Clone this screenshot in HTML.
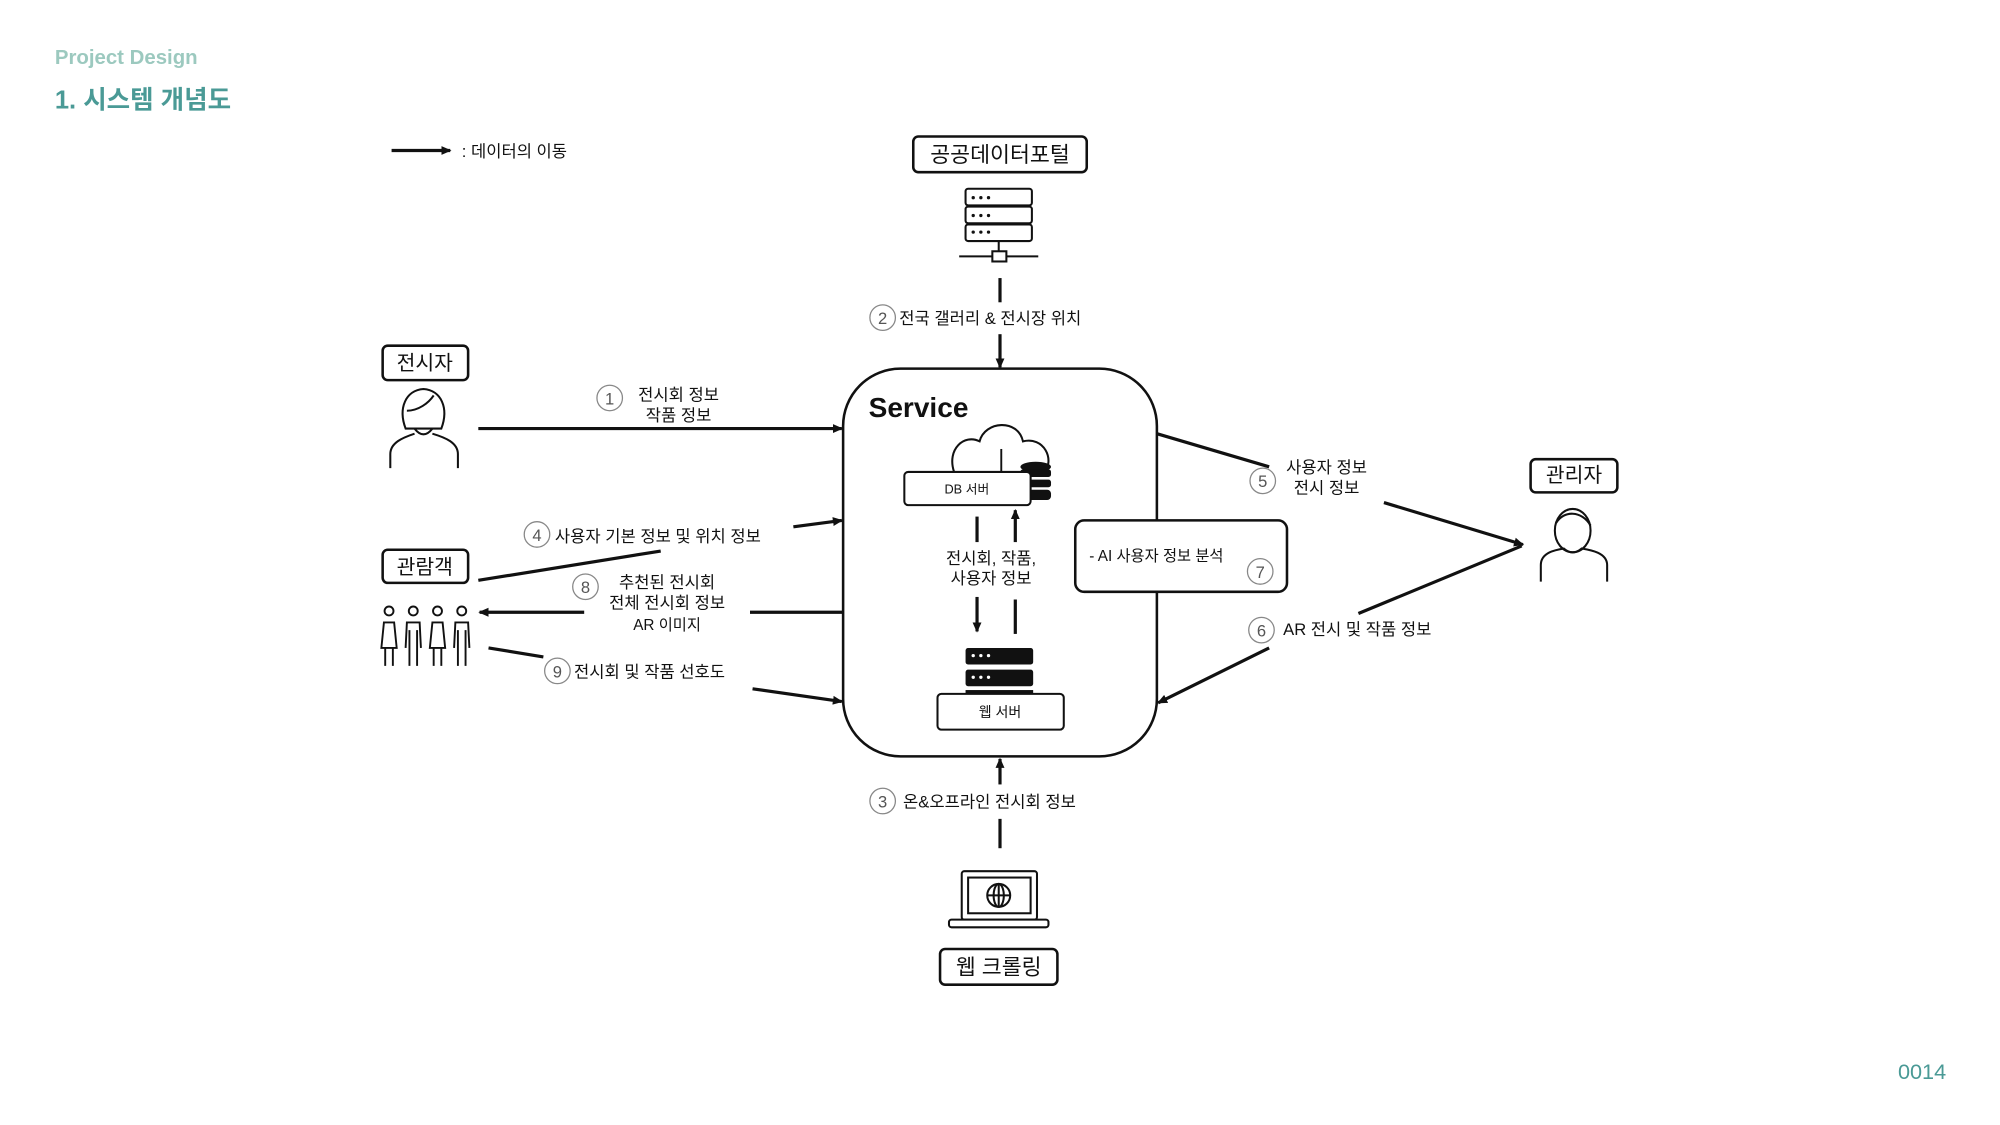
<!DOCTYPE html>
<html><head><meta charset="utf-8"><style>
html,body{margin:0;padding:0;background:#fff;}
svg{display:block;}
text{font-family:"Liberation Sans","Noto Sans CJK KR",sans-serif;fill:#111;}
</style></head><body>
<svg width="2000" height="1125" viewBox="0 0 1568 882" xmlns="http://www.w3.org/2000/svg">
<defs>
<marker id="ah" markerWidth="8" markerHeight="8" refX="7" refY="4" orient="auto" markerUnits="userSpaceOnUse">
<path d="M0,0.5 L8,4 L0,7.5 Z" fill="#111"/></marker>
</defs>
<text x="43" y="50" font-size="16" font-weight="bold" style="fill:#9cc9bf">Project Design</text>
<text x="43" y="85" font-size="20" font-weight="bold" style="fill:#4a9a96">1. 시스템 개념도</text>
<text x="1488" y="846" font-size="17" style="fill:#4a9a96">0014</text>

<g stroke="#111" stroke-width="2.5" fill="none">
<line x1="307" y1="118" x2="353" y2="118" marker-end="url(#ah)"/>
</g>
<text x="362" y="123" font-size="13">: 데이터의 이동</text>

<!-- 공공데이터포털 -->
<rect x="716" y="107" width="136" height="28" rx="4" fill="#fff" stroke="#111" stroke-width="2"/>
<text x="784" y="127" font-size="17" text-anchor="middle">공공데이터포털</text>
<g stroke="#111" stroke-width="1.6" fill="#fff">
<rect x="757" y="148" width="52" height="13" rx="2"/>
<rect x="757" y="162" width="52" height="13" rx="2"/>
<rect x="757" y="176" width="52" height="13" rx="2"/>
<line x1="783" y1="189" x2="783" y2="197"/>
<line x1="752" y1="201" x2="814" y2="201"/>
<rect x="778" y="197" width="11" height="8"/>
</g>
<g fill="#111"><circle cx="763" cy="155" r="1.3"/><circle cx="769" cy="155" r="1.3"/><circle cx="775" cy="155" r="1.3"/>
<circle cx="763" cy="169" r="1.3"/><circle cx="769" cy="169" r="1.3"/><circle cx="775" cy="169" r="1.3"/>
<circle cx="763" cy="182" r="1.3"/><circle cx="769" cy="182" r="1.3"/><circle cx="775" cy="182" r="1.3"/></g>

<g stroke="#111" stroke-width="2.5" fill="none">
<line x1="784" y1="218" x2="784" y2="237"/>
<line x1="784" y1="262" x2="784" y2="288" marker-end="url(#ah)"/>
</g>
<circle cx="692" cy="249" r="10" fill="#fff" stroke="#888" stroke-width="1"/>
<text x="692" y="254" font-size="13" text-anchor="middle" style="fill:#555">2</text>
<text x="705" y="254" font-size="13">전국 갤러리 &amp; 전시장 위치</text>

<!-- Service -->
<rect x="661" y="289" width="246" height="304" rx="45" fill="#fff" stroke="#111" stroke-width="2"/>
<text x="681" y="327" font-size="22" font-weight="bold">Service</text>
<path d="M748,370 C742,352 756,340 768,346 C772,330 798,328 802,346 C818,342 828,360 818,372 Z" fill="#fff" stroke="#111" stroke-width="1.6"/>
<line x1="785" y1="352" x2="785" y2="372" stroke="#111" stroke-width="1.5"/>
<g fill="#111"><ellipse cx="812" cy="366" rx="12" ry="4"/><rect x="800" y="368" width="24" height="6" rx="2"/><rect x="800" y="376" width="24" height="6" rx="2"/><rect x="800" y="384" width="24" height="8" rx="3"/></g>
<rect x="709" y="370" width="99" height="26" rx="3" fill="#fff" stroke="#111" stroke-width="1.6"/>
<text x="758" y="387" font-size="10" text-anchor="middle">DB 서버</text>
<g stroke="#111" stroke-width="2.5" fill="none">
<line x1="766" y1="405" x2="766" y2="425"/>
<line x1="766" y1="468" x2="766" y2="495" marker-end="url(#ah)"/>
<line x1="796" y1="497" x2="796" y2="470"/>
<line x1="796" y1="425" x2="796" y2="400" marker-end="url(#ah)"/>
</g>
<text x="777" y="442" font-size="13" text-anchor="middle">전시회, 작품,</text>
<text x="777" y="458" font-size="13" text-anchor="middle">사용자 정보</text>
<g fill="#111"><rect x="757" y="508" width="53" height="13" rx="2"/><rect x="757" y="525" width="53" height="13" rx="2"/><rect x="757" y="541" width="53" height="5"/></g>
<g fill="#fff"><circle cx="763" cy="514" r="1.3"/><circle cx="769" cy="514" r="1.3"/><circle cx="775" cy="514" r="1.3"/><circle cx="763" cy="531" r="1.3"/><circle cx="769" cy="531" r="1.3"/><circle cx="775" cy="531" r="1.3"/></g>
<rect x="735" y="544" width="99" height="28" rx="3" fill="#fff" stroke="#111" stroke-width="1.6"/>
<text x="784" y="562" font-size="11" text-anchor="middle">웹 서버</text>

<!-- AI box -->
<rect x="843" y="408" width="166" height="56" rx="7" fill="#fff" stroke="#111" stroke-width="2"/>
<text x="854" y="440" font-size="12">- AI 사용자 정보 분석</text>
<circle cx="988" cy="448" r="10" fill="#fff" stroke="#888" stroke-width="1"/>
<text x="988" y="453" font-size="13" text-anchor="middle" style="fill:#555">7</text>

<!-- 전시자 -->
<rect x="300" y="271" width="67" height="27" rx="4" fill="#fff" stroke="#111" stroke-width="2"/>
<text x="333" y="290" font-size="16" text-anchor="middle">전시자</text>
<g stroke="#111" stroke-width="1.6" fill="none">
<path d="M318,336 C312,320 318,306 332,305 C346,306 352,320 346,336 Z"/>
<path d="M319,322 C328,322 336,316 340,310"/>
<path d="M325,336 Q332,345 339,336"/>
<path d="M306,367 L306,356 C306,347 316,343 325,340 M359,367 L359,356 C359,347 349,343 339,340"/>
</g>
<g stroke="#111" stroke-width="2.5" fill="none">
<line x1="375" y1="336" x2="660" y2="336" marker-end="url(#ah)"/>
</g>
<circle cx="478" cy="312" r="10" fill="#fff" stroke="#888" stroke-width="1"/>
<text x="478" y="317" font-size="13" text-anchor="middle" style="fill:#555">1</text>
<text x="532" y="314" font-size="13" text-anchor="middle">전시회 정보</text>
<text x="532" y="330" font-size="13" text-anchor="middle">작품 정보</text>

<!-- 관람객 -->
<rect x="300" y="431" width="67" height="26" rx="4" fill="#fff" stroke="#111" stroke-width="2"/>
<text x="333" y="450" font-size="16" text-anchor="middle">관람객</text>
<g stroke="#111" stroke-width="1.5" fill="none">
<circle cx="305" cy="479" r="3.5"/><path d="M299,508 L301,488 L309,488 L311,508 Z M302,508 L302,522 M308,508 L308,522"/>
<circle cx="324" cy="479" r="3.5"/><path d="M318,508 L319,488 L329,488 L330,508 M321,494 L321,522 M327,494 L327,522"/>
<circle cx="343" cy="479" r="3.5"/><path d="M337,508 L339,488 L347,488 L349,508 Z M340,508 L340,522 M346,508 L346,522"/>
<circle cx="362" cy="479" r="3.5"/><path d="M356,508 L357,488 L367,488 L368,508 M359,494 L359,522 M365,494 L365,522"/>
</g>
<g stroke="#111" stroke-width="2.5" fill="none">
<line x1="375" y1="455" x2="518" y2="432"/>
<line x1="622" y1="413" x2="660" y2="408" marker-end="url(#ah)"/>
<line x1="661" y1="480" x2="588" y2="480"/>
<line x1="458" y1="480" x2="376" y2="480" marker-end="url(#ah)"/>
<line x1="383" y1="508" x2="426" y2="515"/>
<line x1="590" y1="540" x2="660" y2="550" marker-end="url(#ah)"/>
</g>
<circle cx="421" cy="419" r="10" fill="#fff" stroke="#888" stroke-width="1"/>
<text x="421" y="424" font-size="13" text-anchor="middle" style="fill:#555">4</text>
<text x="435" y="425" font-size="13">사용자 기본 정보 및 위치 정보</text>
<circle cx="459" cy="460" r="10" fill="#fff" stroke="#888" stroke-width="1"/>
<text x="459" y="465" font-size="13" text-anchor="middle" style="fill:#555">8</text>
<text x="523" y="461" font-size="13" text-anchor="middle">추천된 전시회</text>
<text x="523" y="477" font-size="13" text-anchor="middle">전체 전시회 정보</text>
<text x="523" y="494" font-size="12" text-anchor="middle">AR 이미지</text>
<circle cx="437" cy="526" r="10" fill="#fff" stroke="#888" stroke-width="1"/>
<text x="437" y="531" font-size="13" text-anchor="middle" style="fill:#555">9</text>
<text x="450" y="531" font-size="13">전시회 및 작품 선호도</text>

<!-- 관리자 -->
<rect x="1200" y="360" width="68" height="26" rx="4" fill="#fff" stroke="#111" stroke-width="2"/>
<text x="1234" y="378" font-size="16" text-anchor="middle">관리자</text>
<g stroke="#111" stroke-width="1.6" fill="none">
<ellipse cx="1233" cy="416" rx="14" ry="17"/>
<path d="M1220,410 C1226,400 1240,400 1247,412"/>
<path d="M1208,456 L1208,443 C1208,433 1220,431 1226,430 Q1233,436 1240,430 C1246,431 1260,433 1260,443 L1260,456"/>
</g>
<g stroke="#111" stroke-width="2.5" fill="none">
<line x1="907" y1="340" x2="995" y2="366"/>
<line x1="1085" y1="394" x2="1194" y2="427" marker-end="url(#ah)"/>
<line x1="1193" y1="428" x2="1065" y2="481"/>
<line x1="995" y1="508" x2="908" y2="551" marker-end="url(#ah)"/>
</g>
<circle cx="990" cy="377" r="10" fill="#fff" stroke="#888" stroke-width="1"/>
<text x="990" y="382" font-size="13" text-anchor="middle" style="fill:#555">5</text>
<text x="1040" y="371" font-size="13" text-anchor="middle">사용자 정보</text>
<text x="1040" y="387" font-size="13" text-anchor="middle">전시 정보</text>
<circle cx="989" cy="494" r="10" fill="#fff" stroke="#888" stroke-width="1"/>
<text x="989" y="499" font-size="13" text-anchor="middle" style="fill:#555">6</text>
<text x="1006" y="498" font-size="13">AR 전시 및 작품 정보</text>

<!-- 3 -->
<g stroke="#111" stroke-width="2.5" fill="none">
<line x1="784" y1="665" x2="784" y2="642"/>
<line x1="784" y1="615" x2="784" y2="595" marker-end="url(#ah)"/>
</g>
<circle cx="692" cy="628" r="10" fill="#fff" stroke="#888" stroke-width="1"/>
<text x="692" y="633" font-size="13" text-anchor="middle" style="fill:#555">3</text>
<text x="708" y="633" font-size="13">온&amp;오프라인 전시회 정보</text>

<!-- laptop -->
<g stroke="#111" stroke-width="1.6" fill="#fff">
<rect x="754" y="683" width="59" height="38" rx="2"/>
<rect x="759" y="688" width="49" height="28"/>
<rect x="744" y="721" width="78" height="6" rx="2"/>
<circle cx="783" cy="702" r="9"/>
<ellipse cx="783" cy="702" rx="4" ry="9"/>
<line x1="774" y1="702" x2="792" y2="702"/>
<line x1="783" y1="693" x2="783" y2="711"/>
</g>
<rect x="737" y="744" width="92" height="28" rx="4" fill="#fff" stroke="#111" stroke-width="2"/>
<text x="783" y="764" font-size="17" text-anchor="middle">웹 크롤링</text>
</svg>
</body></html>
